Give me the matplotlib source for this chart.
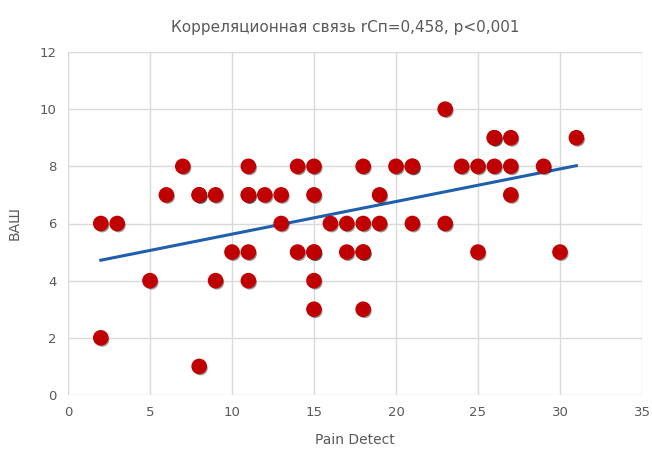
import numpy as np
import matplotlib.pyplot as plt
from matplotlib import patheffects as pe

# Pain Detect score vs VAS (ВАШ) per patient
pain_detect = [2, 3, 2, 5, 6, 7, 8, 8, 8, 9, 9, 10,
               11, 11, 11, 11, 11, 12, 13, 13, 14, 14,
               15, 15, 15, 15, 15, 15, 16, 17, 17,
               18, 18, 18, 18, 18, 19, 19, 20, 21, 21, 21,
               23, 23, 24, 25, 25, 26, 26, 26, 27, 27, 27, 29, 30, 31]
vas = [6, 6, 2, 4, 7, 8, 7, 7, 1, 7, 4, 5,
       8, 7, 7, 5, 4, 7, 7, 6, 8, 5,
       8, 7, 5, 5, 4, 3, 6, 6, 5,
       8, 6, 5, 5, 3, 7, 6, 8, 8, 8, 6,
       10, 6, 8, 8, 5, 9, 9, 8, 9, 8, 7, 8, 5, 9]

title = "Корреляционная связь rСп=0,458, p<0,001"

x = np.array(pain_detect, dtype=float)
y = np.array(vas, dtype=float)

fig = plt.figure(figsize=(6.52, 4.51), dpi=100)
ax = fig.add_axes([68 / 652, 56 / 451, 574 / 652, 343 / 451])

grey = "#595959"
ax.set_xlim(0, 35)
ax.set_ylim(0, 12)
ax.set_xticks(range(0, 36, 5))
ax.set_yticks(range(0, 13, 2))
ax.grid(True, color="#d9d9d9", linewidth=1.0)
ax.set_axisbelow(True)
for s in ax.spines.values():
    s.set_visible(False)
ax.tick_params(length=0, colors=grey, labelsize=9.5, pad=8)

# linear trend line over the data range
k, b = np.polyfit(x, y, 1)
xs = np.array([x.min(), x.max()])
ax.plot(xs, k * xs + b, color="#1f5fad", linewidth=2.2, zorder=2)

ax.scatter(x, y, s=105, color="#c00000", zorder=3,
           path_effects=[pe.withSimplePatchShadow(offset=(1.0, -1.3),
                                                  shadow_rgbFace="black",
                                                  alpha=0.4)])

ax.set_xlabel("Pain Detect", color=grey, fontsize=10, labelpad=10)
ax.set_ylabel("ВАШ", color=grey, fontsize=10, labelpad=13)
fig.text(0.53, 0.94, title, ha="center", va="center", color=grey, fontsize=11)

fig.savefig("out.png", dpi=100)
